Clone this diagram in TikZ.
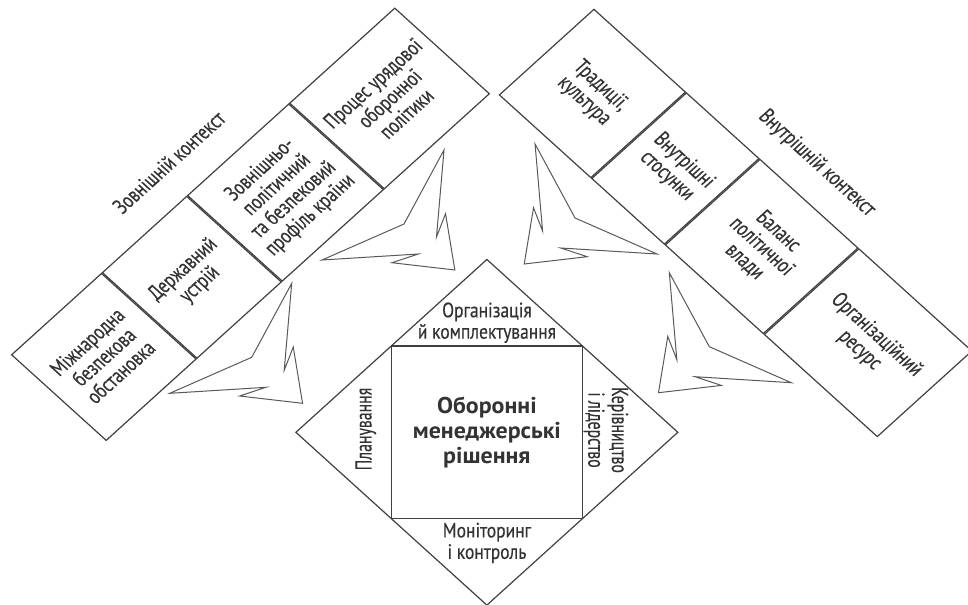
\documentclass[tikz,border=0pt]{standalone}
\usepackage{fontspec}
\setmainfont{PT Sans}[FakeStretch=0.76, FakeBold=0.4]
\newfontfamily\corefont{PT Sans}[FakeStretch=0.95]
\usetikzlibrary{positioning}

\begin{document}
\begin{tikzpicture}[
    x=0.5pt, y=-0.5pt, xscale=1.105, transform shape,
    every node/.style={font=\fontsize{10.4}{10.7}\selectfont, text=black!80, align=center, inner sep=0pt},
    cell/.style={draw=black!75, line width=0.6pt},
    extbox/.style={cell, minimum height=60.5pt, rotate=45, anchor=west},
    intbox/.style={cell, minimum height=60.5pt, rotate=-45, anchor=west},
    spike/.pic={\draw[black!65, line width=0.5pt, line join=miter]
        (0,0) -- (-36.2,74) -- (-110.4,110) -- (-23.3,104) -- (-47.1,112.7)
        -- (9.8,120) -- (1.4,63.7) -- (-6.8,87) -- cycle;}
]
\useasboundingbox (0,0) rectangle (876,604);

\node[extbox, minimum width=57.5pt] (ext1) at (52.9,398) {Міжнародна\\безпекова\\обстановка};
\node[extbox, minimum width=53.9pt] (ext2) at (ext1.east) {Державний\\устрій};
\node[extbox, minimum width=64.7pt] (ext3) at (ext2.east) {Зовнішньо-\\політичний\\та безпековий\\профіль країни};
\node[extbox, minimum width=67.2pt] (ext4) at (ext3.east) {Процес урядової\\оборонної\\політики};
\node[rotate=45] (extlabel) at (152.9,162.3) {Зовнішній контекст};

\node[intbox, minimum width=58.5pt] (int1) at (494.3,51.7) {Традиції,\\культура};
\node[intbox, minimum width=46.4pt] (int2) at (int1.east) {Внутрішні\\стосунки};
\node[intbox, minimum width=62.65pt] (int3) at (int2.east) {Баланс\\політичної\\влади};
\node[intbox, minimum width=72.25pt] (int4) at (int3.east) {Організаційний\\ресурс};
\node[rotate=-45] (intlabel) at (739.1,163.3) {Внутрішній контекст};

\node[cell, rotate=45, minimum size=122.2pt] (frame) at (440.6,432.3) {};
\node[cell, minimum size=86.4pt, font=\corefont\bfseries\fontsize{11.4}{12.6}\selectfont] (core) at (440.6,432.3) {Оборонні\\менеджерські\\рішення};
\node[above=1pt of core] (org) {Організація\\й комплектування};
\node[below=1.5pt of core] (mon) {Моніторинг\\і контроль};
\node[rotate=90] (plan) at (331,429) {Планування};
\node[rotate=-90] (lead) at (548.4,430) {Керівництво\\і лідерство};

\pic at (264,283.3) {spike};
\pic at (401.8,150) {spike};
\pic[xscale=-1] at (484.2,144) {spike};
\pic[xscale=-1] at (605.7,272.7) {spike};

\end{tikzpicture}
\end{document}
